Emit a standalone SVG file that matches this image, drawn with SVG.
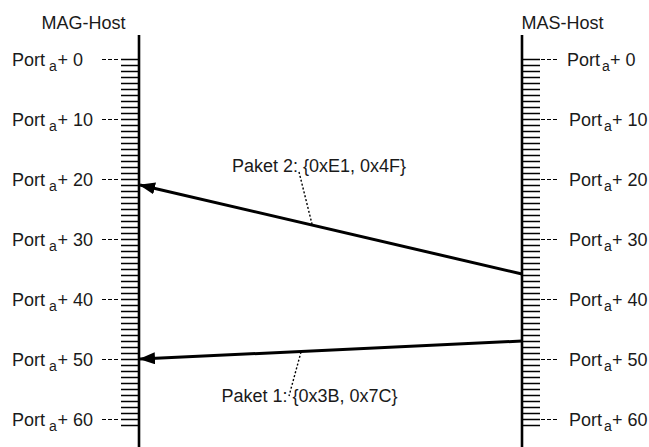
<svg xmlns="http://www.w3.org/2000/svg" width="649" height="447" viewBox="0 0 649 447">
  <style>
    text { font-family: "Liberation Sans", Arial, sans-serif; font-size: 18px; fill: #1a1a1a; }
    .sub { font-size: 14px; }
    .axis { stroke: #000; stroke-width: 2.6; fill: none; }
    .tick { stroke: #000; stroke-width: 1.4; fill: none; }
    .lead { stroke: #000; stroke-width: 1.2; stroke-dasharray: 4 2; fill: none; }
    .msg { stroke: #000; stroke-width: 3; fill: none; }
    .leader { stroke: #000; stroke-width: 1.4; stroke-dasharray: 2 2; fill: none; }
  </style>
  <defs>
    <marker id="head" viewBox="0 0 16 12" refX="15" refY="6" markerWidth="16" markerHeight="12" markerUnits="userSpaceOnUse" orient="auto">
      <path d="M0,0 L16,6 L0,12 Z" fill="#000"/>
    </marker>
    <!-- 64 port ticks, one every 6px, from port 0 to port 63 -->
    <path id="ticks" d="M0,59.5h18m-18,6h18m-18,6h18m-18,6h18m-18,6h18m-18,6h18m-18,6h18m-18,6h18m-18,6h18m-18,6h18m-18,6h18m-18,6h18m-18,6h18m-18,6h18m-18,6h18m-18,6h18m-18,6h18m-18,6h18m-18,6h18m-18,6h18m-18,6h18m-18,6h18m-18,6h18m-18,6h18m-18,6h18m-18,6h18m-18,6h18m-18,6h18m-18,6h18m-18,6h18m-18,6h18m-18,6h18m-18,6h18m-18,6h18m-18,6h18m-18,6h18m-18,6h18m-18,6h18m-18,6h18m-18,6h18m-18,6h18m-18,6h18m-18,6h18m-18,6h18m-18,6h18m-18,6h18m-18,6h18m-18,6h18m-18,6h18m-18,6h18m-18,6h18m-18,6h18m-18,6h18m-18,6h18m-18,6h18m-18,6h18m-18,6h18m-18,6h18m-18,6h18m-18,6h18m-18,6h18m-18,6h18"/>
    <!-- dashed guides at every tenth port -->
    <path id="guides" d="M0,59.5h18m-18,60h18m-18,60h18m-18,60h18m-18,60h18m-18,60h18m-18,60h18"/>
  </defs>

  <!-- MAG host timeline -->
  <g id="mag-host">
    <text x="41.5" y="29">MAG-Host</text>
    <use href="#ticks" class="tick" x="121"/>
    <use href="#guides" class="lead" x="102"/>
    <line class="axis" x1="139" y1="35" x2="139" y2="447"/>
    <text y="66"><tspan x="12">Port</tspan><tspan class="sub" x="49" dy="5">a</tspan><tspan x="57.5" dy="-5">+ 0</tspan></text>
    <text y="126"><tspan x="12">Port</tspan><tspan class="sub" x="49" dy="5">a</tspan><tspan x="57.5" dy="-5">+ 10</tspan></text>
    <text y="186"><tspan x="12">Port</tspan><tspan class="sub" x="49" dy="5">a</tspan><tspan x="57.5" dy="-5">+ 20</tspan></text>
    <text y="246"><tspan x="12">Port</tspan><tspan class="sub" x="49" dy="5">a</tspan><tspan x="57.5" dy="-5">+ 30</tspan></text>
    <text y="306"><tspan x="12">Port</tspan><tspan class="sub" x="49" dy="5">a</tspan><tspan x="57.5" dy="-5">+ 40</tspan></text>
    <text y="366"><tspan x="12">Port</tspan><tspan class="sub" x="49" dy="5">a</tspan><tspan x="57.5" dy="-5">+ 50</tspan></text>
    <text y="426"><tspan x="12">Port</tspan><tspan class="sub" x="49" dy="5">a</tspan><tspan x="57.5" dy="-5">+ 60</tspan></text>
  </g>

  <!-- MAS host timeline -->
  <g id="mas-host">
    <text x="521.5" y="29">MAS-Host</text>
    <use href="#ticks" class="tick" x="522"/>
    <use href="#guides" class="lead" x="541"/>
    <line class="axis" x1="522" y1="35" x2="522" y2="447"/>
    <text y="66"><tspan x="567">Port</tspan><tspan class="sub" x="602" dy="5">a</tspan><tspan x="610" dy="-5">+ 0</tspan></text>
    <text y="126"><tspan x="569">Port</tspan><tspan class="sub" x="604" dy="5">a</tspan><tspan x="612" dy="-5">+ 10</tspan></text>
    <text y="186"><tspan x="569">Port</tspan><tspan class="sub" x="604" dy="5">a</tspan><tspan x="612" dy="-5">+ 20</tspan></text>
    <text y="246"><tspan x="569">Port</tspan><tspan class="sub" x="604" dy="5">a</tspan><tspan x="612" dy="-5">+ 30</tspan></text>
    <text y="306"><tspan x="569">Port</tspan><tspan class="sub" x="604" dy="5">a</tspan><tspan x="612" dy="-5">+ 40</tspan></text>
    <text y="366"><tspan x="569">Port</tspan><tspan class="sub" x="604" dy="5">a</tspan><tspan x="612" dy="-5">+ 50</tspan></text>
    <text y="426"><tspan x="569">Port</tspan><tspan class="sub" x="604" dy="5">a</tspan><tspan x="612" dy="-5">+ 60</tspan></text>
  </g>

  <!-- packets sent from MAS to MAG -->
  <g id="connectors">
    <line class="msg" x1="522" y1="274" x2="140" y2="185" marker-end="url(#head)"/>
    <line class="msg" x1="522" y1="341" x2="140" y2="359" marker-end="url(#head)"/>
    <path class="leader" d="M299,172L312,224"/>
    <path class="leader" d="M301,352L289,396"/>
  </g>

  <g id="label-paket-2">
    <text x="232" y="172">Paket 2: {0xE1, 0x4F}</text>
  </g>
  <g id="label-paket-1">
    <text x="221.5" y="402">Paket 1: {0x3B, 0x7C}</text>
  </g>
</svg>
